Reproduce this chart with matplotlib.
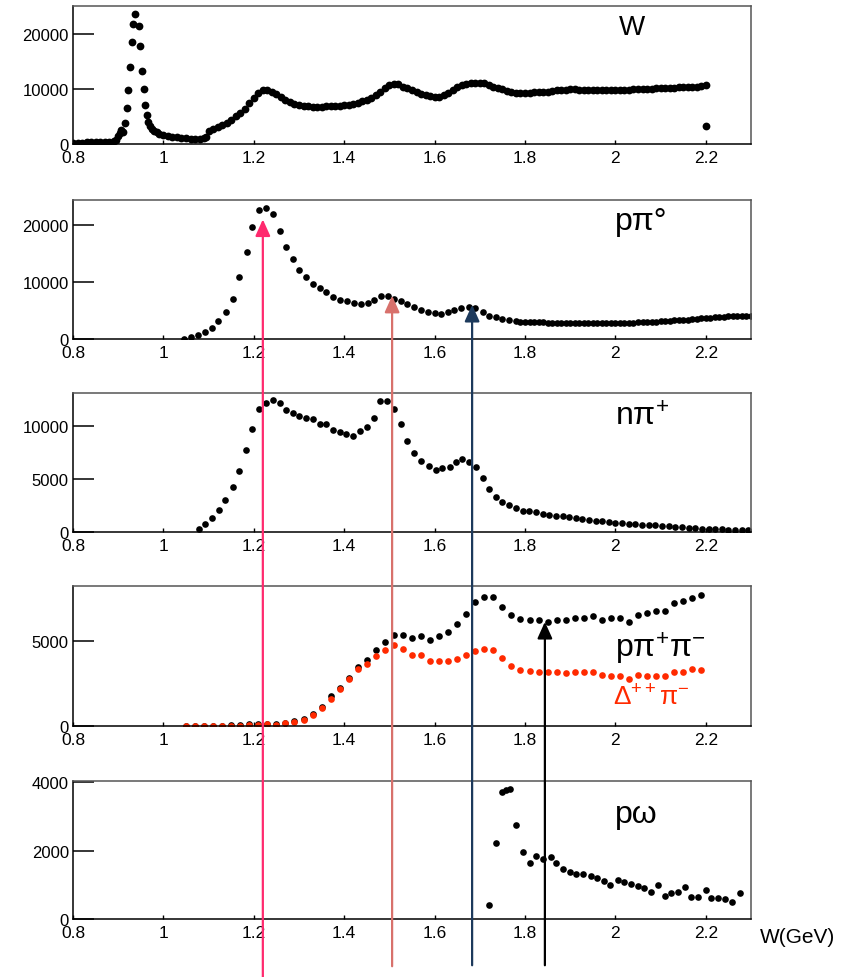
import numpy as np
import matplotlib
matplotlib.use('Agg')
import matplotlib.pyplot as plt
from matplotlib.patches import ConnectionPatch
from matplotlib import transforms

plt.rcParams['font.family'] = ['Liberation Sans', 'DejaVu Sans']
plt.rcParams['mathtext.fontset'] = 'custom'
plt.rcParams['mathtext.rm'] = 'Liberation Sans'
plt.rcParams['mathtext.it'] = 'Liberation Sans:italic'

# ---- data ----
# total W distribution
w_x = [0.80, 0.81, 0.82, 0.83, 0.84, 0.85, 0.86, 0.87, 0.88, 0.89, 0.895, 0.900, 0.903, 0.906,
       0.910, 0.914, 0.919, 0.922, 0.925, 0.930, 0.933, 0.937, 0.947, 0.948, 0.953, 0.956, 0.960,
       0.963, 0.966, 0.970, 0.975, 0.980, 0.985, 0.99, 1.00, 1.01, 1.02, 1.03, 1.04, 1.05, 1.06,
       1.07, 1.08, 1.09, 1.095,
       1.10, 1.11, 1.12, 1.13, 1.14, 1.15, 1.16, 1.17, 1.18, 1.19,
       1.20, 1.21, 1.22, 1.23, 1.24, 1.25, 1.26, 1.27, 1.28, 1.29,
       1.30, 1.31, 1.32, 1.33, 1.34, 1.35, 1.36, 1.37, 1.38, 1.39,
       1.40, 1.41, 1.42, 1.43, 1.44, 1.45, 1.46, 1.47, 1.48, 1.49,
       1.50, 1.51, 1.52, 1.53, 1.54, 1.55, 1.56, 1.57, 1.58, 1.59,
       1.60, 1.61, 1.62, 1.63, 1.64, 1.65, 1.66, 1.67, 1.68, 1.69,
       1.70, 1.71, 1.72, 1.73, 1.74, 1.75, 1.76, 1.77, 1.78, 1.79,
       1.80, 1.81, 1.82, 1.83, 1.84, 1.85, 1.86, 1.87, 1.88, 1.89,
       1.90, 1.91, 1.92, 1.93, 1.94, 1.95, 1.96, 1.97, 1.98, 1.99,
       2.00, 2.01, 2.02, 2.03, 2.04, 2.05, 2.06, 2.07, 2.08, 2.09,
       2.10, 2.11, 2.12, 2.13, 2.14, 2.15, 2.16, 2.17, 2.18, 2.19,
       2.20, 2.20]
w_y = [200, 250, 250, 300, 300, 300, 350, 350, 400, 500, 800, 1500, 2000, 2500,
       2100, 3800, 6500, 9700, 13900, 18400, 21700, 23600, 21300, 17700, 13300, 10000, 7100,
       5200, 4000, 3200, 2700, 2300, 2100, 1900, 1650, 1500, 1350, 1250, 1100, 1050, 950,
       900, 900, 1000, 1200,
       2400, 2700, 3000, 3400, 3800, 4300, 5000, 5700, 6400, 7400,
       8400, 9200, 9700, 9700, 9500, 9000, 8500, 8000, 7600, 7300,
       7100, 6900, 6800, 6700, 6700, 6700, 6800, 6800, 6900, 6900,
       7000, 7100, 7300, 7500, 7700, 8000, 8300, 8800, 9400, 10100,
       10700, 10900, 10800, 10400, 10100, 9700, 9400, 9100, 8900, 8700,
       8600, 8600, 8900, 9300, 9800, 10300, 10700, 10900, 11100, 11100,
       11100, 11000, 10700, 10400, 10100, 9900, 9600, 9400, 9300, 9300,
       9300, 9300, 9400, 9400, 9400, 9500, 9600, 9700, 9700, 9800,
       9900, 9900, 9800, 9800, 9800, 9700, 9800, 9800, 9800, 9700,
       9700, 9800, 9800, 9800, 9900, 9900, 9900, 10000, 10000, 10100,
       10100, 10200, 10200, 10200, 10300, 10300, 10300, 10400, 10400, 10500,
       10600, 3300]

# p pi0
ppi0_x = [1.046, 1.060, 1.077, 1.092, 1.107, 1.121, 1.138, 1.153, 1.168, 1.184,
          1.196, 1.212, 1.228, 1.243, 1.257, 1.272, 1.287, 1.301, 1.316, 1.331,
          1.346, 1.360, 1.375, 1.390, 1.406, 1.421, 1.438, 1.452, 1.467, 1.482,
          1.496, 1.511, 1.526, 1.540, 1.555, 1.570, 1.585, 1.600, 1.615, 1.630,
          1.644, 1.659, 1.677, 1.690, 1.706, 1.721, 1.735, 1.750, 1.765, 1.780,
          1.79, 1.80, 1.81, 1.82, 1.83, 1.84, 1.85, 1.86, 1.87, 1.88, 1.89,
          1.90, 1.91, 1.92, 1.93, 1.94, 1.95, 1.96, 1.97, 1.98, 1.99,
          2.00, 2.01, 2.02, 2.03, 2.04, 2.05, 2.06, 2.07, 2.08, 2.09,
          2.10, 2.11, 2.12, 2.13, 2.14, 2.15, 2.16, 2.17, 2.18, 2.19,
          2.20, 2.21, 2.22, 2.23, 2.24, 2.25, 2.26, 2.27, 2.28, 2.29, 2.30]
ppi0_y = [0, 300, 700, 1200, 2000, 3100, 4800, 7100, 10800, 15200,
          19600, 22700, 23000, 21900, 18900, 16200, 14000, 12200, 10900, 9600,
          9000, 8200, 7400, 6900, 6600, 6300, 6100, 6300, 6900, 7500,
          7500, 7100, 6700, 6100, 5600, 5100, 4800, 4600, 4400, 4700,
          5100, 5400, 5600, 5400, 4700, 4100, 3800, 3500, 3300, 3100,
          3000, 2950, 2900, 2900, 2900, 2900, 2850, 2850, 2850, 2850, 2850,
          2850, 2850, 2850, 2800, 2800, 2800, 2800, 2800, 2800, 2800,
          2800, 2800, 2800, 2850, 2850, 2900, 2950, 3000, 3000, 3050,
          3100, 3150, 3200, 3250, 3300, 3350, 3400, 3450, 3550, 3600,
          3700, 3750, 3800, 3850, 3900, 3950, 4000, 4050, 4050, 4100, 4100]

# n pi+
npip_x = [1.078, 1.093, 1.107, 1.122, 1.137, 1.153, 1.168, 1.182, 1.197, 1.212,
          1.228, 1.243, 1.257, 1.272, 1.287, 1.301, 1.316, 1.331, 1.346, 1.360,
          1.375, 1.390, 1.404, 1.419, 1.436, 1.451, 1.465, 1.480, 1.495, 1.511,
          1.526, 1.540, 1.555, 1.570, 1.588, 1.602, 1.617, 1.633, 1.648, 1.661,
          1.676, 1.692, 1.708, 1.721, 1.736, 1.750, 1.765, 1.780, 1.795, 1.809,
          1.824, 1.839, 1.853, 1.868, 1.883, 1.897, 1.912, 1.927, 1.941, 1.956,
          1.971, 1.985, 2.000, 2.015, 2.030, 2.044, 2.059, 2.074, 2.088, 2.103,
          2.118, 2.132, 2.147, 2.162, 2.176, 2.191, 2.206, 2.220, 2.235, 2.250,
          2.264, 2.279, 2.294]
npip_y = [320, 760, 1330, 2110, 3060, 4230, 5740, 7700, 9720, 11580,
          12150, 12400, 12180, 11480, 11230, 10950, 10730, 10660, 10190, 10190,
          9620, 9400, 9210, 9050, 9530, 9870, 10790, 12370, 12370, 11580,
          10220, 8610, 7410, 6690, 6250, 5840, 6060, 6150, 6560, 6850,
          6560, 6150, 5050, 4040, 3310, 2840, 2520, 2270, 2020, 2020,
          1890, 1740, 1640, 1510, 1480, 1390, 1320, 1260, 1100, 1010,
          1010, 950, 880, 850, 790, 730, 690, 660, 630, 600,
          540, 470, 440, 410, 380, 320, 320, 280, 250, 220,
          220, 190, 190]

# p pi+ pi-  and  Delta++ pi-
ppp_x = [1.05, 1.07, 1.09, 1.11, 1.13, 1.15, 1.17, 1.19, 1.21, 1.23,
         1.25, 1.27, 1.29, 1.31, 1.33, 1.35, 1.37, 1.39, 1.41, 1.43,
         1.45, 1.47, 1.49, 1.51, 1.53, 1.55, 1.57, 1.59, 1.61, 1.63,
         1.65, 1.67, 1.69, 1.71, 1.73, 1.75, 1.77, 1.79, 1.81, 1.83,
         1.85, 1.87, 1.89, 1.91, 1.93, 1.95, 1.97, 1.99, 2.01, 2.03,
         2.05, 2.07, 2.09, 2.11, 2.13, 2.15, 2.17, 2.19]
ppp_y = [0, 0, 0, 0, 20, 60, 60, 100, 140, 120,
         140, 200, 290, 430, 690, 1140, 1730, 2250, 2800, 3430,
         3880, 4470, 4940, 5330, 5330, 5140, 5250, 5040, 5250, 5530,
         5980, 6570, 7250, 7550, 7550, 6960, 6510, 6270, 6210, 6230,
         6120, 6230, 6180, 6330, 6330, 6470, 6210, 6330, 6330, 6120,
         6530, 6610, 6760, 6760, 7220, 7310, 7510, 7690]
dpi_y = [0, 0, 0, 0, 0, 0, 0, 60, 80, 100,
         80, 180, 240, 350, 650, 1080, 1610, 2160, 2750, 3330,
         3630, 4120, 4470, 4760, 4510, 4160, 4160, 3820, 3820, 3820,
         3920, 4160, 4410, 4510, 4450, 3960, 3490, 3270, 3240, 3140,
         3140, 3140, 3080, 3140, 3140, 3140, 2980, 2940, 2900, 2750,
         2980, 2900, 2900, 2940, 3180, 3180, 3330, 3290]

# p omega
pom_x = [1.721, 1.736, 1.749, 1.759, 1.767, 1.781, 1.796, 1.811, 1.825, 1.840,
         1.857, 1.869, 1.884, 1.899, 1.913, 1.928, 1.945, 1.960, 1.974, 1.989,
         2.005, 2.020, 2.034, 2.049, 2.064, 2.079, 2.094, 2.109, 2.123, 2.138,
         2.154, 2.168, 2.183, 2.200, 2.212, 2.227, 2.242, 2.258, 2.276]
pom_y = [410, 2220, 3700, 3760, 3800, 2750, 1970, 1640, 1830, 1760,
         1820, 1640, 1460, 1370, 1320, 1320, 1250, 1190, 1120, 980,
         1140, 1070, 1020, 960, 910, 780, 990, 680, 760, 780,
         930, 630, 650, 850, 610, 610, 570, 510, 750]

# resonance arrows: W position, tip value, colour
arrow_w = [1.22, 1.506, 1.683, 1.844]
arrow_tip = [21000, 7600, 6000, 6100]
arrow_panel = [1, 1, 1, 3]
arrow_bottom = [0.0, 0.011, 0.012, 0.012]
arrow_col = ['#ff2a6e', '#d8716c', '#1d3a5c', 'black']

xticks = [0.8, 1.0, 1.2, 1.4, 1.6, 1.8, 2.0, 2.2]
xtick_labels = ['0.8', '1', '1.2', '1.4', '1.6', '1.8', '2', '2.2']

fig = plt.figure(figsize=(8.53, 9.78), dpi=100)
W, H = 853, 978
left = 73 / W
width = (751 - 73) / W
# (top px, bottom px) of each panel
panel_px = [(7, 145), (201, 340), (394, 533), (587, 727), (782, 920)]
ylims = [25000, 24400, 13100, 8200, 4030]
yticks = [[0, 10000, 20000], [0, 10000, 20000], [0, 5000, 10000], [0, 5000], [0, 2000, 4000]]

axes = []
for (top, bot), ym, yt in zip(panel_px, ylims, yticks):
    ax = fig.add_axes([left, 1 - bot / H, width, (bot - top) / H])
    ax.set_xlim(0.8, 2.3)
    ax.set_ylim(0, ym)
    ax.set_xticks(xticks)
    ax.set_xticklabels(xtick_labels)
    ax.set_yticks(yt)
    ax.set_yticklabels([str(v) for v in yt])
    ax.tick_params(axis='y', direction='in', length=15, width=1.1, pad=3, labelsize=12)
    ax.tick_params(axis='x', direction='in', length=3, width=1, pad=4, labelsize=12.5)
    for s in ['left', 'bottom']:
        ax.spines[s].set_color('black')
        ax.spines[s].set_linewidth(1.1)
    for s in ['top', 'right']:
        ax.spines[s].set_color('#555555')
        ax.spines[s].set_linewidth(1.1)
    axes.append(ax)

ms = 4.8
axes[0].plot(w_x, w_y, 'o', color='black', ms=5.6, mec='none')
axes[1].plot(ppi0_x, ppi0_y, 'o', color='black', ms=ms, mec='none')
axes[2].plot(npip_x, npip_y, 'o', color='black', ms=ms, mec='none')
axes[3].plot(ppp_x, ppp_y, 'o', color='black', ms=ms, mec='none')
axes[3].plot(ppp_x, dpi_y, 'o', color='#ff2a00', ms=ms, mec='none')
axes[4].plot(pom_x, pom_y, 'o', color='black', ms=ms, mec='none')

# panel labels
axes[0].text(0.825, 0.85, 'W', transform=axes[0].transAxes, fontsize=20, ha='center', va='center')
axes[1].text(0.80, 0.85, 'pπ°', transform=axes[1].transAxes, fontsize=23, ha='left', va='center')
axes[2].text(0.80, 0.83, 'nπ$^{+}$', transform=axes[2].transAxes, fontsize=23, ha='left', va='center')
axes[3].text(0.80, 0.56, 'pπ$^{+}$π$^{-}$', transform=axes[3].transAxes, fontsize=23, ha='left', va='center')
axes[3].text(0.797, 0.21, 'Δ$^{++}$π$^{-}$', transform=axes[3].transAxes, fontsize=19,
             ha='left', va='center', color='#ff2a00')
axes[4].text(0.80, 0.76, 'pω', transform=axes[4].transAxes, fontsize=23, ha='left', va='center')
axes[4].text(1.013, -0.125, 'W(GeV)', transform=axes[4].transAxes, fontsize=15, ha='left', va='center')

# vertical arrows pointing at resonances
blend = transforms.blended_transform_factory(axes[4].transData, fig.transFigure)
for xw, tip, p, yb, c in zip(arrow_w, arrow_tip, arrow_panel, arrow_bottom, arrow_col):
    con = ConnectionPatch(xyA=(xw, yb), coordsA=blend,
                          xyB=(xw, tip), coordsB=axes[p].transData,
                          arrowstyle='-|>,head_length=10,head_width=4.5',
                          mutation_scale=1, shrinkA=0, shrinkB=0,
                          color=c, lw=1.6, zorder=10)
    fig.add_artist(con)

fig.savefig('out.png', dpi=100)
